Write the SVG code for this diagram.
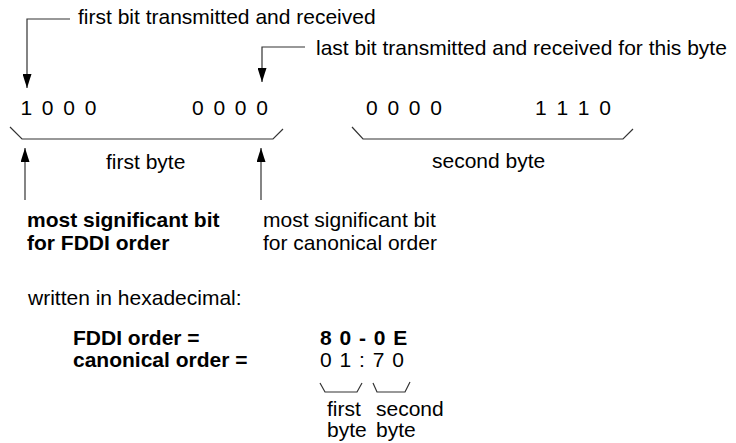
<svg xmlns="http://www.w3.org/2000/svg" width="736" height="443" viewBox="0 0 736 443">
<style>
text{font-family:"Liberation Sans",Arial,sans-serif;font-size:21px;fill:#000}
.b{font-weight:bold}
.d{word-spacing:3.9px}
.h{word-spacing:2px}
.ln{fill:none;stroke:#333;stroke-width:1.2}
</style>
<defs>
<marker id="ah" markerUnits="userSpaceOnUse" markerWidth="14" markerHeight="9" refX="14" refY="4.5" orient="auto">
<path d="M0,0 L14,4.5 L0,9 z" fill="#000"/>
</marker>
</defs>
<rect width="736" height="443" fill="#fff"/>
<g id="connectors">
<path class="ln" d="M70,19 H27 V88" marker-end="url(#ah)"/>
<path class="ln" d="M305,47 H262 V82" marker-end="url(#ah)"/>
<path class="ln" d="M25,200 V148" marker-end="url(#ah)"/>
<path class="ln" d="M261,200 V148" marker-end="url(#ah)"/>
<polyline class="ln" points="10,127 22,139 273,139 283,129"/>
<polyline class="ln" points="352,127 363,139 623,139 633,129"/>
<polyline class="ln" points="320,383 325,392 357,392 362,383"/>
<polyline class="ln" points="373,383 377,392 405,392 410,382"/>
</g>
<g id="label-first-bit"><text x="78" y="24">first bit transmitted and received</text></g>
<g id="label-last-bit"><text x="316" y="55">last bit transmitted and received for this byte</text></g>
<g id="bits-byte1">
<text class="d" x="20.4" y="115">1 0 0 0</text>
<text class="d" x="192" y="115">0 0 0 0</text>
</g>
<g id="bits-byte2">
<text class="d" x="366" y="115">0 0 0 0</text>
<text class="d" x="535" y="115">1 1 1 0</text>
</g>
<g id="label-first-byte"><text x="106" y="169">first byte</text></g>
<g id="label-second-byte"><text x="432" y="168">second byte</text></g>
<g id="msb-fddi"><text class="b" x="27" y="227">most significant bit</text><text class="b" x="27" y="250">for FDDI order</text></g>
<g id="msb-canonical"><text x="263" y="227">most significant bit</text><text x="263" y="250">for canonical order</text></g>
<g id="hex">
<text x="28" y="305">written in hexadecimal:</text>
<text class="b" x="73" y="345">FDDI order =</text>
<text class="b" x="73" y="367">canonical order =</text>
<text class="b h" x="320" y="345">8 0 - 0 E</text>
<text class="h" x="320" y="367">0 1 : 7 0</text>
<text x="327" y="416">first</text>
<text x="327" y="437">byte</text>
<text x="376" y="416">second</text>
<text x="376" y="437">byte</text>
</g>
</svg>
